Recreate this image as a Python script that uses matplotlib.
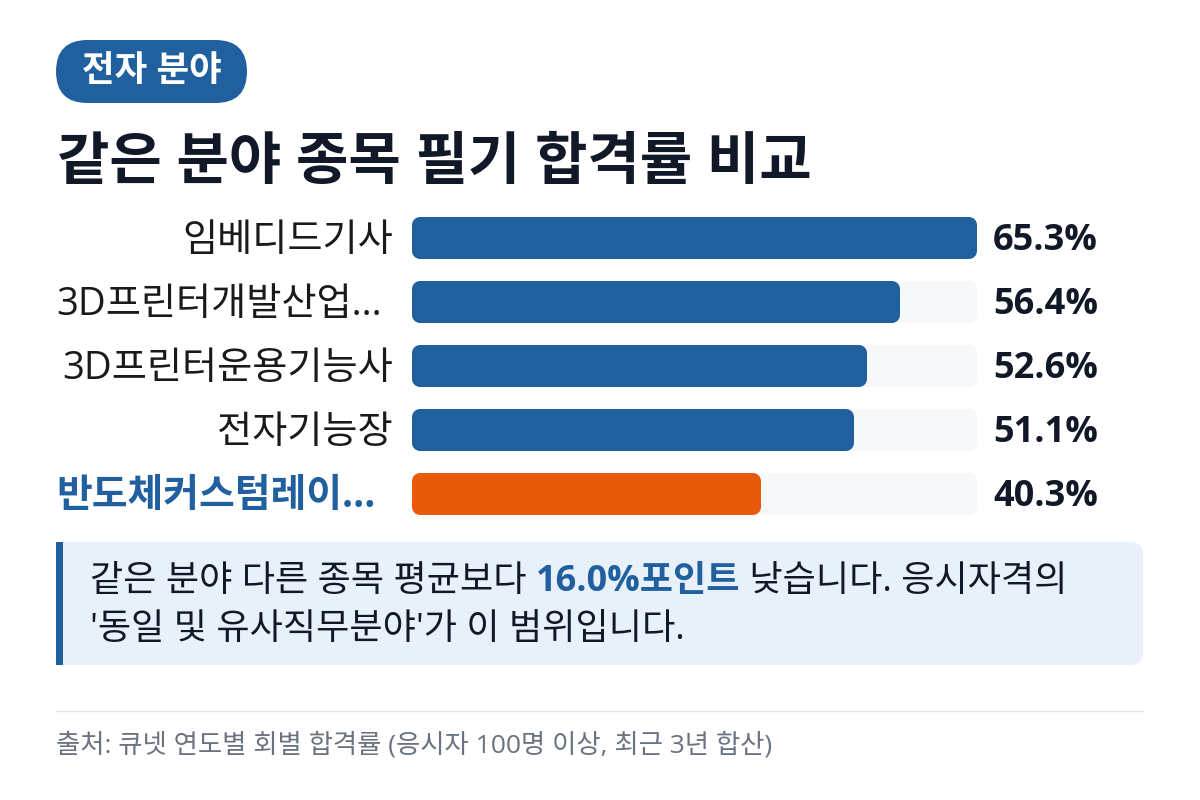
import matplotlib
matplotlib.use("Agg")
import matplotlib.pyplot as plt
import matplotlib.transforms as mtransforms
from matplotlib.patches import FancyBboxPatch, Rectangle

plt.rcParams['font.family'] = ['Open Sans', 'Noto Sans CJK KR', 'DejaVu Sans']

# data
names = ['임베디드기사', '3D프린터개발산업...', '3D프린터운용기능사', '전자기능장', '반도체커스텀레이...']
rates = [65.3, 56.4, 52.6, 51.1, 40.3]
highlight = 4  # the item being compared
badge = '전자 분야'
title = '같은 분야 종목 필기 합격률 비교'
note1 = ['같은 분야 다른 종목 평균보다 ', '16.0%포인트', ' 낮습니다. 응시자격의']
note2 = "'동일 및 유사직무분야'가 이 범위입니다."
source = '출처: 큐넷 연도별 회별 합격률 (응시자 100명 이상, 최근 3년 합산)'

BLUE = '#21609e'
ORANGE = '#e8590c'
TRACK = '#f7f8fa'
DARK = '#111827'

fig = plt.figure(figsize=(12, 8), dpi=100)
fig.patch.set_facecolor('white')

# background layer in pixel units
bg = fig.add_axes([0, 0, 1, 1])
bg.set_xlim(0, 1200)
bg.set_ylim(800, 0)
bg.axis('off')

# badge
bg.add_patch(FancyBboxPatch((56, 40), 191, 63, boxstyle='round,pad=0,rounding_size=31.5',
                            fc=BLUE, ec='none'))
bg.text(151.5, 72, badge, color='white', fontsize=25.5, fontweight='bold', ha='center', va='center')

# title
bg.text(57, 164, title, color=DARK, fontsize=41, fontweight='bold', ha='left', va='center')

# callout box
bg.add_patch(FancyBboxPatch((56, 542), 1087, 123, boxstyle='round,pad=0,rounding_size=13',
                            fc='#e8f0f9', ec='none'))
bg.add_patch(Rectangle((56, 542), 30, 123, fc='#e8f0f9', ec='none'))
bg.add_patch(Rectangle((56, 542), 7, 123, fc=BLUE, ec='none'))

renderer = fig.canvas.get_renderer()
x = 90
for i, part in enumerate(note1):
    bold = (i == 1)
    t = bg.text(x, 582, part, fontsize=26, color=BLUE if bold else DARK,
                fontweight='bold' if bold else 'normal', ha='left', va='center')
    x = t.get_window_extent(renderer).x1
bg.text(90, 630, note2, fontsize=26, color=DARK, ha='left', va='center')

# footer
bg.plot([56, 1143], [711, 711], color='#e5e7eb', lw=1)
bg.text(56, 745, source, fontsize=19, color='#6b7280', ha='left', va='center')

# bars
ax = fig.add_axes([412 / 1200, (800 - 526) / 800, 565 / 1200, 320 / 800])
ax.set_facecolor('none')
xmax = max(rates)
ax.set_xlim(0, xmax)
ax.set_ylim(len(names) - 0.5, -0.5)
ypos = list(range(len(names)))

r = 8  # corner radius in px
dx = r * xmax / 565
dy = r / 64
h = 42 / 64
lw = 2 * r * 0.72
colors = [ORANGE if i == highlight else BLUE for i in ypos]
ax.barh(ypos, [xmax - 2 * dx] * len(names), left=dx, height=h - 2 * dy,
        color=TRACK, edgecolor=TRACK, linewidth=lw, joinstyle='round', clip_on=False)
ax.barh(ypos, [v - 2 * dx for v in rates], left=dx, height=h - 2 * dy,
        color=colors, edgecolor=colors, linewidth=lw, joinstyle='round', clip_on=False)

nudge = 3 / 64  # text sits a few px below the bar centre
for i, v in enumerate(rates):
    ax.text(1.0283, i + nudge, f'{v:.1f}%', transform=ax.get_yaxis_transform(),
            fontsize=26, fontweight='bold', color=DARK, ha='left', va='center')

# category labels: x in page pixels, y on the bar axis
lab_tr = mtransforms.blended_transform_factory(bg.transData, ax.transData)
for i, name in enumerate(names):
    cut = name.endswith('...')
    hl = (i == highlight)
    ax.text(56 if cut else 393, i + nudge, name, transform=lab_tr,
            ha='left' if cut else 'right', va='center',
            fontsize=28 if hl else 27.5, fontweight='bold' if hl else 'normal',
            color=BLUE if hl else '#1a1a1a')

ax.set_xticks([])
ax.set_yticks([])
for s in ax.spines.values():
    s.set_visible(False)

fig.savefig('out.png', dpi=100)
